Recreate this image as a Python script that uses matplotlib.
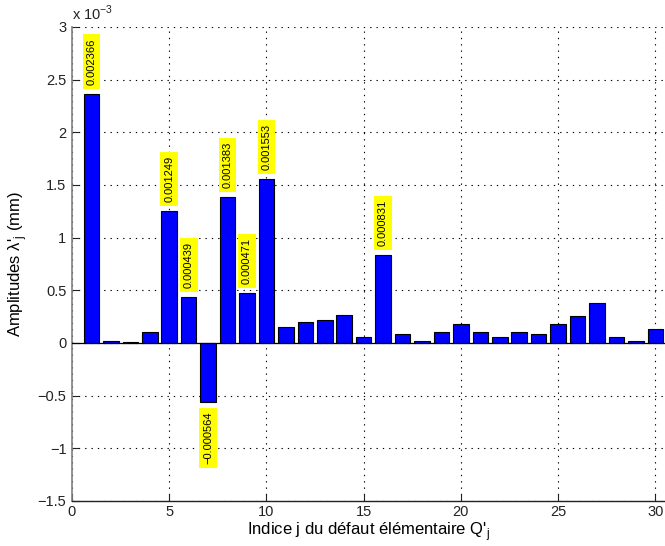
import matplotlib
matplotlib.use("Agg")
import matplotlib.pyplot as plt
import numpy as np

plt.rcParams['font.family'] = ['Liberation Sans', 'DejaVu Sans']

indices = list(range(1, 31))
values_e3 = [2.366, 0.016, 0.010, 0.107, 1.249, 0.439, -0.564, 1.383, 0.471, 1.553,
             0.152, 0.196, 0.220, 0.263, 0.060, 0.831, 0.085, 0.022, 0.100, 0.177,
             0.100, 0.060, 0.107, 0.085, 0.177, 0.260, 0.377, 0.054, 0.016, 0.130]
labeled = [1, 5, 6, 7, 8, 9, 10, 16]
label_texts = ["0.002366", "0.001249", "0.000439", "\u22120.000564",
               "0.001383", "0.000471", "0.001553", "0.000831"]
xticks = [0, 5, 10, 15, 20, 25, 30]
yticks = [-1.5, -1, -0.5, 0, 0.5, 1, 1.5, 2, 2.5, 3]
ytick_labels = ["\u22121.5", "\u22121", "\u22120.5", "0", "0.5", "1", "1.5", "2", "2.5", "3"]

fig = plt.figure(figsize=(6.65, 5.46), dpi=100)
ax = fig.add_axes([72/665, 1-501/546, (665-72)/665, (501-27)/546])

ax.bar(indices, values_e3, width=0.8, color='#0000ff', edgecolor='black', linewidth=0.8, zorder=3)
ax.axhline(0, color='black', linewidth=0.9, zorder=4)

ax.set_xlim(0, 30.5)
ax.set_ylim(-1.5, 3)
ax.set_xticks(xticks)
ax.set_xticklabels([str(t) for t in xticks])
ax.set_yticks(yticks)
ax.set_yticklabels(ytick_labels)

for s in ['top', 'right']:
    ax.spines[s].set_visible(False)
ax.spines['left'].set_color('#808080')
ax.spines['left'].set_linewidth(1.2)
ax.spines['bottom'].set_color('#222222')
ax.spines['bottom'].set_linewidth(1.0)
ax.tick_params(direction='in', length=5, width=0.8, labelsize=10.5, colors='#222222')
ax.tick_params(axis='x', pad=3)
ax.tick_params(axis='y', pad=4)

ax.grid(True, linestyle=(0, (1.2, 4.5)), color='black', linewidth=0.8, zorder=0)
ax.set_axisbelow(True)

for idx, txt in zip(labeled, label_texts):
    v = values_e3[idx - 1]
    if v >= 0:
        ax.annotate(txt, xy=(idx, v), xytext=(0, 6.5), textcoords='offset points',
                    rotation=90, ha='center', va='bottom', fontsize=8,
                    bbox=dict(boxstyle='square,pad=0.35', facecolor='#ffff00', edgecolor='none'),
                    zorder=5)
    else:
        ax.annotate(txt, xy=(idx, v), xytext=(0, -6.5), textcoords='offset points',
                    rotation=90, ha='center', va='top', fontsize=8,
                    bbox=dict(boxstyle='square,pad=0.35', facecolor='#ffff00', edgecolor='none'),
                    zorder=5)

ax.set_xlabel("Indice j du d\u00e9faut \u00e9l\u00e9mentaire Q'$_{\\mathregular{j}}$", fontsize=12, labelpad=1)
ax.set_ylabel("Amplitudes \u03bb'$_{\\mathregular{j}}$ (mm)", fontsize=12, labelpad=6)
fig.text(72/665, 1-20/546, "x 10$^{\\mathregular{-3}}$", fontsize=10.5, ha='left', va='baseline', color='#222222')

fig.savefig("out.png", dpi=100)
